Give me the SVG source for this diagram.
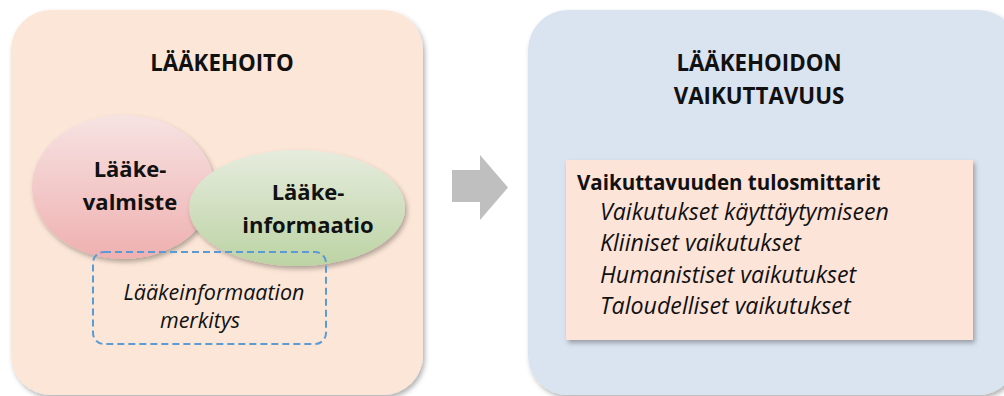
<svg xmlns="http://www.w3.org/2000/svg" width="1004" height="396" viewBox="0 0 1004 396">
<style>
.title{font-family:"Open Sans","Liberation Sans",Arial,sans-serif;font-weight:bold;font-size:22.3px;fill:#111;text-anchor:middle}
.ell{font-family:"Open Sans","Liberation Sans",Arial,sans-serif;font-weight:bold;font-size:22px;fill:#111;text-anchor:middle}
.it{font-family:"Open Sans","Liberation Sans",Arial,sans-serif;font-style:italic;font-size:23.2px;fill:#111}
.itb{font-family:"Open Sans","Liberation Sans",Arial,sans-serif;font-style:italic;font-size:21.5px;fill:#111;text-anchor:middle}
.hd{font-family:"Open Sans","Liberation Sans",Arial,sans-serif;font-weight:bold;font-size:20.5px;fill:#111}
</style>
<defs>
<filter id="sh" x="-10%" y="-10%" width="125%" height="125%">
<feDropShadow dx="2" dy="3" stdDeviation="2.5" flood-color="#000" flood-opacity="0.3"/>
</filter>
<linearGradient id="gp" x1="0" y1="0" x2="0" y2="1">
<stop offset="0" stop-color="#F7E3E3"/>
<stop offset="1" stop-color="#EFB0B0"/>
</linearGradient>
<linearGradient id="gg" x1="0" y1="0" x2="0" y2="1">
<stop offset="0" stop-color="#E6ECDE"/>
<stop offset="1" stop-color="#BCD3A3"/>
</linearGradient>
</defs>
<g id="left-panel">
<rect x="11" y="10" width="412" height="385" rx="40" fill="#FCE6D7" filter="url(#sh)"/>
<text class="title" x="222" y="71">LÄÄKEHOITO</text>
</g>
<g id="valmiste">
<ellipse cx="123" cy="187" rx="91" ry="72" fill="url(#gp)" filter="url(#sh)"/>
<text class="ell" x="130" y="177">Lääke-</text>
<text class="ell" x="130" y="210">valmiste</text>
</g>
<g id="informaatio">
<ellipse cx="297" cy="208" rx="108" ry="58" fill="url(#gg)" filter="url(#sh)"/>
<text class="ell" x="308" y="200">Lääke-</text>
<text class="ell" x="308" y="233">informaatio</text>
</g>
<g id="merkitys">
<rect x="93" y="252" width="233" height="92" rx="11" fill="none" stroke="#5B9BD5" stroke-width="2" stroke-dasharray="7,4"/>
<text class="itb" x="214" y="300">Lääkeinformaation</text>
<text class="itb" x="200" y="328">merkitys</text>
</g>
<g id="connectors">
<polygon points="452,170 480,170 480,155 508,187.5 480,220 480,202 452,202" fill="#BFBFBF"/>
</g>
<g id="right-panel">
<rect x="528" y="10" width="490" height="385" rx="40" fill="#DAE3F0" filter="url(#sh)"/>
<text class="title" x="759" y="71">LÄÄKEHOIDON</text>
<text class="title" x="759" y="104">VAIKUTTAVUUS</text>
</g>
<g id="mittarit">
<rect x="566" y="160" width="407" height="180" fill="#FDE4D9" filter="url(#sh)"/>
<text class="hd" x="577" y="190">Vaikuttavuuden tulosmittarit</text>
<text class="it" x="600" y="220">Vaikutukset käyttäytymiseen</text>
<text class="it" x="600" y="251">Kliiniset vaikutukset</text>
<text class="it" x="600" y="283">Humanistiset vaikutukset</text>
<text class="it" x="600" y="314">Taloudelliset vaikutukset</text>
</g>
</svg>
